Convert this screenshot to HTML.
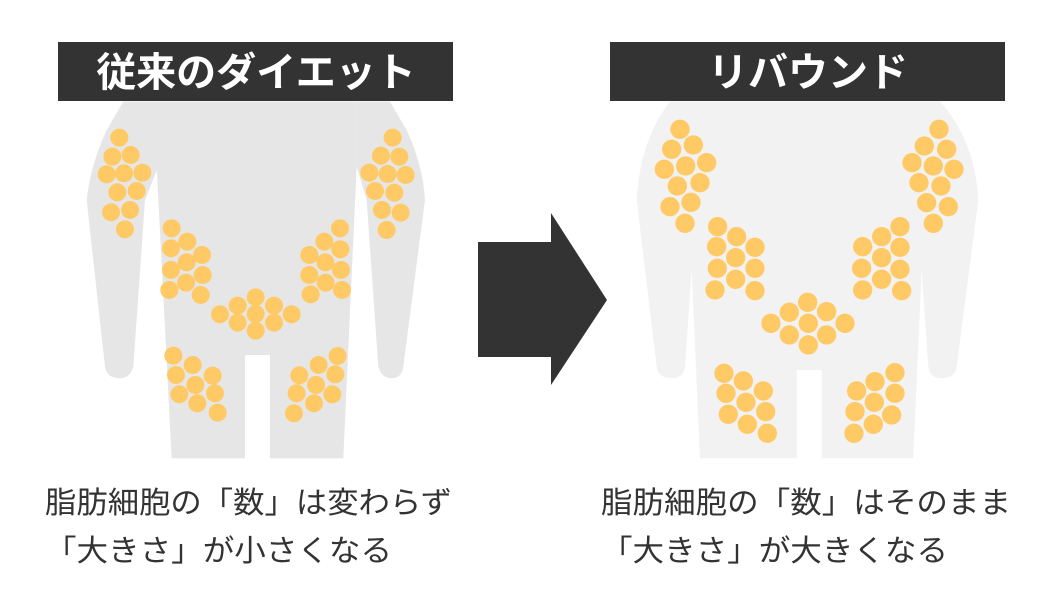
<!DOCTYPE html>
<html><head><meta charset="utf-8"><style>
html,body{margin:0;padding:0;background:#fff;width:1060px;height:600px;overflow:hidden}
svg{display:block}
text{font-family:"Liberation Sans","Noto Sans CJK JP",sans-serif}
</style></head><body>
<svg width="1060" height="600" viewBox="0 0 1060 600" xmlns="http://www.w3.org/2000/svg">
<g transform="translate(80,90) scale(0.3333)" fill="#e6e6e6">
<path d="M130,35 L235,35 L235,230 L195,330 L160,830 Q150,865 120,865 Q80,865 75,830 L20,330 Q30,230 80,120 Z"/>
<path d="M930,35 L830,35 L830,230 L860,330 L895,830 Q905,865 935,865 Q965,865 970,830 L1035,330 Q1030,230 980,120 Z"/>
<path d="M230,35 L830,35 L830,230 L790,1105 L570,1105 L570,795 L495,795 L495,1105 L275,1105 L230,230 Z"/>
<g fill="#ffc965">
<circle cx="118" cy="143" r="27"/><circle cx="97" cy="200" r="27"/><circle cx="152" cy="195" r="27"/><circle cx="80" cy="253" r="27"/><circle cx="132" cy="250" r="27"/><circle cx="187" cy="248" r="27"/><circle cx="112" cy="307" r="27"/><circle cx="170" cy="303" r="27"/><circle cx="93" cy="367" r="27"/><circle cx="150" cy="360" r="27"/><circle cx="135" cy="418" r="27"/>
<circle cx="938" cy="143" r="27"/><circle cx="903" cy="197" r="27"/><circle cx="958" cy="200" r="27"/><circle cx="868" cy="248" r="27"/><circle cx="923" cy="252" r="27"/><circle cx="977" cy="255" r="27"/><circle cx="885" cy="303" r="27"/><circle cx="943" cy="308" r="27"/><circle cx="906" cy="360" r="27"/><circle cx="962" cy="368" r="27"/><circle cx="920" cy="420" r="27"/>
<circle cx="275" cy="415" r="27"/><circle cx="322" cy="455" r="27"/><circle cx="273" cy="475" r="27"/><circle cx="366" cy="495" r="27"/><circle cx="320" cy="517" r="27"/><circle cx="273" cy="540" r="27"/><circle cx="368" cy="555" r="27"/><circle cx="318" cy="578" r="27"/><circle cx="268" cy="600" r="27"/><circle cx="362" cy="615" r="27"/>
<circle cx="780" cy="415" r="27"/><circle cx="733" cy="455" r="27"/><circle cx="781" cy="478" r="27"/><circle cx="688" cy="495" r="27"/><circle cx="736" cy="517" r="27"/><circle cx="783" cy="540" r="27"/><circle cx="688" cy="555" r="27"/><circle cx="737" cy="578" r="27"/><circle cx="786" cy="600" r="27"/><circle cx="692" cy="613" r="27"/>
<circle cx="527" cy="622" r="27"/><circle cx="473" cy="647" r="27"/><circle cx="582" cy="647" r="27"/><circle cx="420" cy="673" r="27"/><circle cx="527" cy="672" r="27"/><circle cx="635" cy="673" r="27"/><circle cx="473" cy="698" r="27"/><circle cx="582" cy="698" r="27"/><circle cx="527" cy="722" r="27"/>
<circle cx="280" cy="797" r="27"/><circle cx="338" cy="825" r="27"/><circle cx="288" cy="855" r="27"/><circle cx="398" cy="857" r="27"/><circle cx="346" cy="885" r="27"/><circle cx="298" cy="913" r="27"/><circle cx="405" cy="910" r="27"/><circle cx="352" cy="940" r="27"/><circle cx="413" cy="968" r="27"/>
<circle cx="773" cy="798" r="27"/><circle cx="716" cy="825" r="27"/><circle cx="658" cy="856" r="27"/><circle cx="766" cy="853" r="27"/><circle cx="708" cy="885" r="27"/><circle cx="650" cy="910" r="27"/><circle cx="757" cy="913" r="27"/><circle cx="702" cy="940" r="27"/><circle cx="642" cy="970" r="27"/>
</g></g>
<g transform="translate(620,90) scale(0.3333)" fill="#f2f2f2">
<path d="M150,35 L300,35 L215,540 L195,830 Q190,865 155,865 Q115,865 110,830 L50,330 Q60,150 150,35 Z"/>
<path d="M960,35 L800,35 L905,540 L925,830 Q930,865 965,865 Q1005,865 1010,830 L1075,330 Q1065,150 960,35 Z"/>
<path d="M150,35 L960,35 L905,540 L880,1105 L605,1105 L605,840 L530,840 L530,1105 L240,1105 L215,540 Z"/>
<g fill="#ffc965">
<circle cx="180" cy="118" r="29"/><circle cx="155" cy="178" r="29"/><circle cx="220" cy="165" r="29"/><circle cx="133" cy="238" r="29"/><circle cx="197" cy="228" r="29"/><circle cx="260" cy="218" r="29"/><circle cx="172" cy="288" r="29"/><circle cx="240" cy="278" r="29"/><circle cx="150" cy="350" r="29"/><circle cx="213" cy="337" r="29"/><circle cx="195" cy="400" r="29"/>
<circle cx="957" cy="118" r="29"/><circle cx="913" cy="168" r="29"/><circle cx="980" cy="178" r="29"/><circle cx="876" cy="218" r="29"/><circle cx="940" cy="228" r="29"/><circle cx="1002" cy="238" r="29"/><circle cx="897" cy="278" r="29"/><circle cx="963" cy="288" r="29"/><circle cx="920" cy="338" r="29"/><circle cx="985" cy="350" r="29"/><circle cx="940" cy="400" r="29"/>
<circle cx="293" cy="410" r="29"/><circle cx="350" cy="440" r="29"/><circle cx="290" cy="470" r="29"/><circle cx="405" cy="472" r="29"/><circle cx="347" cy="503" r="29"/><circle cx="292" cy="535" r="29"/><circle cx="405" cy="535" r="29"/><circle cx="347" cy="568" r="29"/><circle cx="285" cy="600" r="29"/><circle cx="405" cy="602" r="29"/>
<circle cx="840" cy="410" r="29"/><circle cx="785" cy="440" r="29"/><circle cx="840" cy="472" r="29"/><circle cx="728" cy="470" r="29"/><circle cx="785" cy="503" r="29"/><circle cx="840" cy="538" r="29"/><circle cx="725" cy="535" r="29"/><circle cx="785" cy="568" r="29"/><circle cx="728" cy="600" r="29"/><circle cx="845" cy="602" r="29"/>
<circle cx="563" cy="637" r="29"/><circle cx="508" cy="667" r="29"/><circle cx="620" cy="665" r="29"/><circle cx="453" cy="700" r="29"/><circle cx="565" cy="700" r="29"/><circle cx="675" cy="700" r="29"/><circle cx="508" cy="735" r="29"/><circle cx="620" cy="735" r="29"/><circle cx="565" cy="765" r="29"/>
<circle cx="312" cy="850" r="29"/><circle cx="370" cy="873" r="29"/><circle cx="318" cy="910" r="29"/><circle cx="430" cy="903" r="29"/><circle cx="378" cy="937" r="29"/><circle cx="325" cy="973" r="29"/><circle cx="437" cy="965" r="29"/><circle cx="382" cy="1003" r="29"/><circle cx="442" cy="1030" r="29"/>
<circle cx="825" cy="848" r="29"/><circle cx="765" cy="875" r="29"/><circle cx="710" cy="903" r="29"/><circle cx="825" cy="910" r="29"/><circle cx="763" cy="937" r="29"/><circle cx="705" cy="965" r="29"/><circle cx="815" cy="975" r="29"/><circle cx="760" cy="1003" r="29"/><circle cx="702" cy="1030" r="29"/>
</g></g>
<rect x="58" y="42" width="395" height="59" fill="#333"/>
<text x="256" y="86" font-size="40" font-weight="bold" fill="#fff" text-anchor="middle">従来のダイエット</text>
<rect x="610" y="42" width="395" height="59" fill="#333"/>
<text x="808" y="86" font-size="40" font-weight="bold" fill="#fff" text-anchor="middle">リバウンド</text>
<path d="M478,242 L551,242 L551,213 L607,300 L551,385 L551,357 L478,357 Z" fill="#333"/>
<g font-size="30" fill="#333">
<text x="45" y="513" textLength="407" lengthAdjust="spacingAndGlyphs">脂肪細胞の「数」は変わらず</text>
<text x="45" y="561" textLength="347" lengthAdjust="spacingAndGlyphs">「大きさ」が小さくなる</text>
<text x="601" y="513" textLength="410" lengthAdjust="spacingAndGlyphs">脂肪細胞の「数」はそのまま</text>
<text x="601" y="561" textLength="347" lengthAdjust="spacingAndGlyphs">「大きさ」が大きくなる</text>
</g>
</svg>
</body></html>
